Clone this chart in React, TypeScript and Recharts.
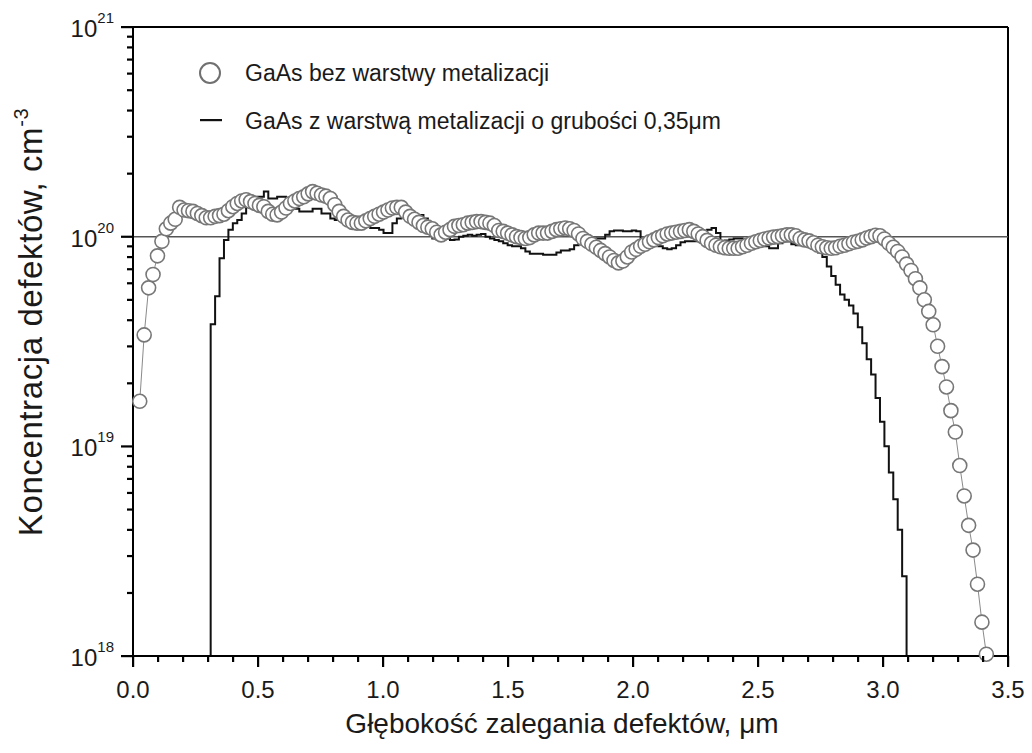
import { LineChart, Line, XAxis, YAxis, ReferenceLine, Legend } from 'recharts'

// depth grid of the profile (µm): one bin every depthStep
const depthStart = 0.027
const depthStep = 0.01773

// GaAs bez warstwy metalizacji, in 1e20 cm^-3 (one value per bin)
const bezMetalizacji = [
  0.164, 0.34, 0.57, 0.66, 0.81, 0.95, 1.09, 1.16, 1.21, 1.38,
  1.34, 1.33, 1.32, 1.29, 1.26, 1.23, 1.23, 1.25, 1.26, 1.28,
  1.33, 1.39, 1.44, 1.48, 1.5, 1.47, 1.44, 1.41, 1.39, 1.32,
  1.28, 1.27, 1.31, 1.37, 1.44, 1.48, 1.52, 1.55, 1.6, 1.64,
  1.61, 1.58, 1.56, 1.52, 1.42, 1.32, 1.25, 1.2, 1.17, 1.16,
  1.16, 1.19, 1.22, 1.25, 1.28, 1.31, 1.34, 1.37, 1.38, 1.38,
  1.31, 1.25, 1.21, 1.17, 1.13, 1.11, 1.09, 1.05, 1.02, 1.05,
  1.08, 1.12, 1.13, 1.14, 1.16, 1.17, 1.18, 1.18, 1.17, 1.16,
  1.13, 1.07, 1.06, 1.04, 1.02, 1.0, 0.99, 0.98, 0.99, 1.02,
  1.04, 1.04, 1.04, 1.06, 1.08, 1.09, 1.1, 1.09, 1.07, 1.03,
  0.98, 0.95, 0.92, 0.89, 0.86, 0.83, 0.8, 0.77, 0.75, 0.765,
  0.8, 0.845, 0.87, 0.9, 0.92, 0.945, 0.965, 0.99, 1.01, 1.03,
  1.04, 1.05, 1.06, 1.07, 1.08, 1.06, 1.03, 1.0, 0.96, 0.93,
  0.91, 0.895, 0.885, 0.88, 0.88, 0.88, 0.895, 0.91, 0.93, 0.945,
  0.96, 0.975, 0.985, 0.995, 1.0, 1.01, 1.02, 1.02, 1.01, 0.98,
  0.965, 0.955, 0.935, 0.91, 0.895, 0.885, 0.88, 0.885, 0.9, 0.91,
  0.925, 0.94, 0.95, 0.965, 0.985, 1.0, 1.015, 1.01, 0.975, 0.93,
  0.89, 0.85, 0.8, 0.74, 0.69, 0.63, 0.57, 0.5, 0.44, 0.38,
  0.3, 0.24, 0.192, 0.148, 0.117, 0.081, 0.058, 0.042, 0.032, 0.022,
  0.0145, 0.0102,
]

// GaAs z warstwą metalizacji 0,35 µm, in 1e20 cm^-3, starting at bin zFirstBin
const zFirstBin = 15
const zMetalizacja = [
  0.01,
  0.382, 0.52, 0.79, 0.965, 1.08, 1.16, 1.2, 1.29, 1.45, 1.52,
  1.55, 1.55, 1.64, 1.52, 1.52, 1.55, 1.55, 1.48, 1.42, 1.36,
  1.32, 1.32, 1.32, 1.36, 1.36, 1.29, 1.29, 1.22, 1.2, 1.22,
  1.25, 1.22, 1.22, 1.2, 1.22, 1.18, 1.1, 1.1, 1.08, 1.04,
  1.04, 1.16, 1.22, 1.25, 1.29, 1.27, 1.27, 1.27, 1.22, 1.16,
  0.98, 0.965, 0.97, 0.98, 0.965, 0.97, 1.0, 1.01, 1.02, 1.01,
  1.02, 1.03, 1.0, 0.98, 0.965, 0.95, 0.93, 0.91, 0.9, 0.9,
  0.88, 0.85, 0.83, 0.83, 0.83, 0.82, 0.82, 0.82, 0.84, 0.86,
  0.86, 0.87, 0.91, 0.93, 0.95, 0.96, 0.97, 0.98, 0.98, 1.02,
  1.06, 1.07, 1.07, 1.06, 1.06, 1.07, 1.06, 0.98, 0.96, 0.94,
  0.92, 0.9, 0.88, 0.87, 0.88, 0.91, 0.94, 0.95, 0.95, 0.95,
  0.97, 1.02, 1.08, 1.1, 1.04, 0.95, 0.96, 0.97, 0.98, 0.98,
  0.97, 0.96, 0.95, 0.92, 0.9, 0.9, 0.88, 0.88, 0.93, 0.95,
  0.95, 0.92, 0.91, 0.91, 0.93, 0.92, 0.9, 0.84, 0.8, 0.72,
  0.65, 0.59, 0.53, 0.5, 0.47, 0.43, 0.37, 0.31, 0.26, 0.22,
  0.17, 0.131, 0.1, 0.075, 0.056, 0.04, 0.024, 0.01,
]

const xTicks = [
  0, 0.1, 0.2, 0.3, 0.4, 0.5, 0.6, 0.7, 0.8, 0.9, 1, 1.1, 1.2, 1.3, 1.4, 1.5, 1.6, 1.7,
  1.8, 1.9, 2, 2.1, 2.2, 2.3, 2.4, 2.5, 2.6, 2.7, 2.8, 2.9, 3, 3.1, 3.2, 3.3, 3.4, 3.5,
]
const xMajorTicks = [0, 0.5, 1, 1.5, 2, 2.5, 3, 3.5]

const yTicks = [
  0.01, 0.02, 0.03, 0.04, 0.05, 0.06, 0.07, 0.08, 0.09,
  0.1, 0.2, 0.3, 0.4, 0.5, 0.6, 0.7, 0.8, 0.9,
  1, 2, 3, 4, 5, 6, 7, 8, 9, 10,
]
const yMajorTicks = [0.01, 0.1, 1, 10]
const yMajorExponents = ['18', '19', '20', '21']

const legendLabels = ['GaAs bez warstwy metalizacji', 'GaAs z warstwą metalizacji o grubości 0,35μm']
const xTitle = 'Głębokość zalegania defektów, μm'
const yTitle = 'Koncentracja defektów, cm'

const rows = bezMetalizacji.map((v, i) => {
  const k = i - zFirstBin
  return {
    depth: depthStart + i * depthStep,
    bez: v,
    z: k >= 0 && k < zMetalizacja.length ? zMetalizacja[k] : null,
  }
})

const FONT = 'Liberation Sans, Arial, Helvetica, sans-serif'

// tick marks as filled rects, labels only on the major ticks
function renderXTick(props: any) {
  const x = Number(props.x)
  const y = Number(props.y)
  const v = props.payload.value as number
  const major = xMajorTicks.some((m) => Math.abs(m - v) < 1e-6)
  const len = major ? 11 : 6
  return (
    <g>
      <rect x={x - 1} y={y} width={2.2} height={len} fill="#000" />
      {major ? (
        <text x={x} y={y + 42} textAnchor="middle" fontSize={24} fill="#1a1a1a" fontFamily={FONT}>
          {v.toFixed(1)}
        </text>
      ) : null}
    </g>
  )
}

function renderYTick(props: any) {
  const x = Number(props.x)
  const y = Number(props.y)
  const v = props.payload.value as number
  const idx = yMajorTicks.findIndex((m) => Math.abs(m - v) / m < 1e-6)
  const major = idx >= 0
  const len = major ? 12 : 6
  return (
    <g>
      <rect x={x - len} y={y - 1} width={len} height={2.2} fill="#000" />
      {major ? (
        <text x={x - 19} y={y + 10} textAnchor="end" fontSize={24} fill="#1a1a1a" fontFamily={FONT}>
          10
          <tspan dy={-14} fontSize={15}>
            {yMajorExponents[idx]}
          </tspan>
        </text>
      ) : null}
    </g>
  )
}

function LegendBox() {
  return (
    <svg width={700} height={100} style={{ display: 'block', overflow: 'visible' }}>
      <circle cx={25} cy={23} r={10} fill="#fff" stroke="#707070" strokeWidth={2} />
      <text x={60} y={31} fontSize={23} fill="#1a1a1a" fontFamily={FONT}>
        {legendLabels[0]}
      </text>
      <rect x={15} y={69} width={22} height={2.2} fill="#111" />
      <text x={60} y={79} fontSize={23} fill="#1a1a1a" fontFamily={FONT}>
        {legendLabels[1]}
      </text>
    </svg>
  )
}

export default function App() {
  return (
    <div style={{ position: 'absolute', left: 0, top: 0, width: 1032, height: 753, background: '#fff', fontFamily: FONT }}>
      <LineChart width={1032} height={753} data={rows} margin={{ top: 27, right: 24, bottom: 0, left: 0 }}>
        <XAxis
          dataKey="depth"
          type="number"
          domain={[0, 3.5]}
          ticks={xTicks}
          interval={0}
          height={97}
          tickSize={0}
          tickMargin={0}
          tickLine={false}
          axisLine={{ stroke: '#000', strokeWidth: 2 }}
          tick={renderXTick}
        />
        <YAxis
          type="number"
          scale="log"
          domain={[0.01, 10]}
          ticks={yTicks}
          interval={0}
          width={133}
          tickSize={0}
          tickMargin={0}
          tickLine={false}
          axisLine={{ stroke: '#000', strokeWidth: 2 }}
          tick={renderYTick}
        />
        <ReferenceLine y={10} stroke="#000" strokeWidth={2} />
        <ReferenceLine x={3.5} stroke="#000" strokeWidth={2} />
        <ReferenceLine y={1} stroke="#555" strokeWidth={1.5} />
        <Legend
          layout="horizontal"
          verticalAlign="middle"
          align="center"
          content={<LegendBox />}
          wrapperStyle={{ left: 185, top: 50, width: 700, height: 100 }}
        />
        <Line
          dataKey="z"
          type="stepAfter"
          stroke="#111"
          strokeWidth={2}
          dot={false}
          activeDot={false}
          connectNulls={false}
          isAnimationActive={false}
        />
        <Line
          dataKey="bez"
          type="linear"
          stroke="#8a8a8a"
          strokeWidth={1}
          dot={{ r: 7, fill: '#fff', stroke: '#777', strokeWidth: 1.6 }}
          activeDot={false}
          isAnimationActive={false}
        />
      </LineChart>
      {/* axis titles */}
      <svg width={1032} height={753} style={{ position: 'absolute', left: 0, top: 0, pointerEvents: 'none' }}>
        <text x={562} y={733} textAnchor="middle" fontSize={28} fill="#1a1a1a" fontFamily={FONT}>
          {xTitle}
        </text>
        <text
          transform="translate(42,322) rotate(-90)"
          textAnchor="middle"
          fontSize={33}
          letterSpacing={0.6}
          fill="#1a1a1a"
          fontFamily={FONT}
        >
          {yTitle}
          <tspan dy={-14} fontSize={20}>
            -3
          </tspan>
        </text>
      </svg>
    </div>
  )
}
